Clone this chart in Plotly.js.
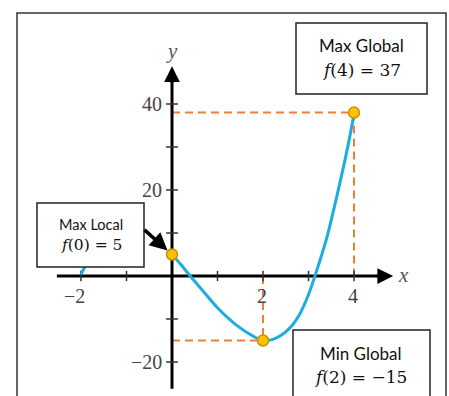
<!DOCTYPE html>
<html>
<head>
<meta charset="utf-8">
<script src="https://cdn.plot.ly/plotly-3.0.1.min.js"></script>
<style>
  html, body { margin: 0; padding: 0; background: #fff; }
  #plot { width: 449px; height: 396px; }
</style>
</head>
<body>
<div id="plot"></div>
<script>
// curve (null = part hidden in the picture)
const curveX = [-2, -1.9, -1.7, -1, 0, 0.2, 0.4, 0.7, 1.0, 1.4, 1.8, 2.0, 2.2, 2.4, 2.6, 2.8, 3.0, 3.2, 3.4, 3.6, 3.8, 3.9, 4];
const curveY = [0.4, 2.4, 5.5, null, 5, 2.6, 0, -3.7, -7.4, -11.3, -14.1, -15, -14.8, -13.8, -12.0, -9.0, -4.3, 1.9, 8.8, 17.5, 26.9, 32.0, 37.6];

// extreme points
const pointX = [0, 2, 4];
const pointY = [5, -15, 38];

const xTicks = [-2, -1, 1, 2, 3, 4];
const xTickLabels = ['\u22122', '', '', '2', '', '4'];
const yTicks = [-20, -10, 10, 20, 30, 40];
const yTickLabels = ['\u221220', '', '', '20', '', '40'];

const boxTitles = ['Max Global', 'Max Local', 'Min Global'];
const boxFormulas = ['<i>f</i>(4) = 37', '<i>f</i>(0) = 5', '<i>f</i>(2) = \u221215'];

const W = 449, H = 396;
const px = v => v / W;
const py = v => 1 - v / H;

const blue = '#1AADE4';
const orange = '#EE8035';
const serif = 'Liberation Serif';
const sans = 'Lato';
const mathFont = 'DejaVu Serif';

const traces = [
  {
    x: curveX, y: curveY, type: 'scatter', mode: 'lines',
    line: {color: blue, width: 3, shape: 'spline', smoothing: 1},
    connectgaps: false,
    hoverinfo: 'skip'
  },
  {
    x: pointX, y: pointY, type: 'scatter', mode: 'markers',
    marker: {size: 11, color: '#FFC000', line: {color: '#C69400', width: 1.5}},
    hoverinfo: 'skip'
  }
];

const shapes = [];
// outer frame
shapes.push({type: 'rect', xref: 'paper', yref: 'paper', x0: px(17), x1: px(446), y0: -0.1, y1: py(13),
  line: {color: '#333', width: 1.5}, layer: 'below'});

// dashed guides
const dash = {color: orange, width: 2, dash: '8px,5px'};
shapes.push({type: 'line', x0: 0, x1: pointX[2], y0: pointY[2], y1: pointY[2], line: dash, layer: 'below'});
shapes.push({type: 'line', x0: pointX[2], x1: pointX[2], y0: pointY[2], y1: 0, line: dash, layer: 'below'});
shapes.push({type: 'line', x0: 0, x1: pointX[1], y0: pointY[1], y1: pointY[1], line: dash, layer: 'below'});
shapes.push({type: 'line', x0: pointX[1], x1: pointX[1], y0: 0, y1: pointY[1], line: dash, layer: 'below'});

// axes lines
shapes.push({type: 'line', x0: -2.53, x1: 4.6, y0: 0, y1: 0, line: {color: '#000', width: 3}, layer: 'below'});
shapes.push({type: 'line', x0: 0, x1: 0, y0: -26.2, y1: 46, line: {color: '#000', width: 3}, layer: 'below'});

// tick marks
xTicks.forEach(t => shapes.push({type: 'line', x0: t, x1: t, y0: -1.2, y1: 1.2,
  line: {color: '#333', width: 1.5}, layer: 'below'}));
yTicks.forEach(t => shapes.push({type: 'line', x0: -0.13, x1: 0.13, y0: t, y1: t,
  line: {color: '#333', width: 1.5}, layer: 'below'}));

// label boxes
const boxes = [[296, 427, 23, 94], [37, 144, 203, 267], [293, 430, 330, 420]];
boxes.forEach(b => shapes.push({type: 'rect', xref: 'paper', yref: 'paper',
  x0: px(b[0]), x1: px(b[1]), y0: py(b[3]), y1: py(b[2]),
  fillcolor: '#fff', line: {color: '#222', width: 1.5}, layer: 'above'}));

const annotations = [];
// arrow heads of axes
annotations.push({x: 4.86, y: 0, ax: -18, ay: 0, text: '', showarrow: true,
  arrowhead: 2, arrowsize: 1.05, arrowwidth: 3, arrowcolor: '#000', standoff: 0});
annotations.push({x: 0, y: 48.8, ax: 0, ay: 18, text: '', showarrow: true,
  arrowhead: 2, arrowsize: 1.05, arrowwidth: 3, arrowcolor: '#000', standoff: 0});
annotations.push({x: 5.08, y: 0, text: '<i>x</i>', showarrow: false,
  font: {family: serif, size: 21, color: '#555'}, yshift: 1});
annotations.push({x: 0, y: 52.3, text: '<i>y</i>', showarrow: false,
  font: {family: serif, size: 21, color: '#555'}});

// tick labels
xTicks.forEach((t, i) => {
  if (!xTickLabels[i]) return;
  annotations.push({x: t, y: 0, text: xTickLabels[i], showarrow: false, xanchor: 'right', xshift: 5.5,
    yanchor: 'middle', yshift: -20, font: {family: serif, size: 20, color: '#444'}});
});
yTicks.forEach((t, i) => {
  if (!yTickLabels[i]) return;
  annotations.push({x: 0, y: t, text: yTickLabels[i], showarrow: false, xanchor: 'right', xshift: -8,
    yanchor: 'middle', font: {family: serif, size: 20, color: '#444'}});
});

// arrow to local max
annotations.push({x: 0, y: 5, ax: -29, ay: -26, text: '', showarrow: true,
  arrowhead: 2, arrowsize: 1, arrowwidth: 3.5, arrowcolor: '#000', standoff: 6});

// box texts
const titlePos = [[361.5, 45, 17], [91, 224, 14.5], [361, 353, 17]];
const formulaPos = [[361, 70, 17], [91, 245, 15.5], [360, 377, 17]];
boxTitles.forEach((s, i) => {
  annotations.push({xref: 'paper', yref: 'paper', x: px(titlePos[i][0]), y: py(titlePos[i][1]),
    xanchor: 'center', yanchor: 'middle',
    text: s, showarrow: false, font: {family: sans, size: titlePos[i][2], color: '#111'}});
  annotations.push({xref: 'paper', yref: 'paper', x: px(formulaPos[i][0]), y: py(formulaPos[i][1]),
    xanchor: 'center', yanchor: 'middle',
    text: boxFormulas[i], showarrow: false, font: {family: mathFont, size: formulaPos[i][2], color: '#111'}});
});

const layout = {
  width: W, height: H,
  margin: {l: 0, r: 0, t: 0, b: 0},
  paper_bgcolor: '#fff', plot_bgcolor: '#fff',
  showlegend: false,
  xaxis: {range: [-172 / 45.5, 277 / 45.5], visible: false, fixedrange: true},
  yaxis: {range: [(276 - 396) / 4.3, 276 / 4.3], visible: false, fixedrange: true},
  shapes: shapes,
  annotations: annotations
};

Plotly.newPlot('plot', traces, layout, {staticPlot: true});
</script>
</body>
</html>
